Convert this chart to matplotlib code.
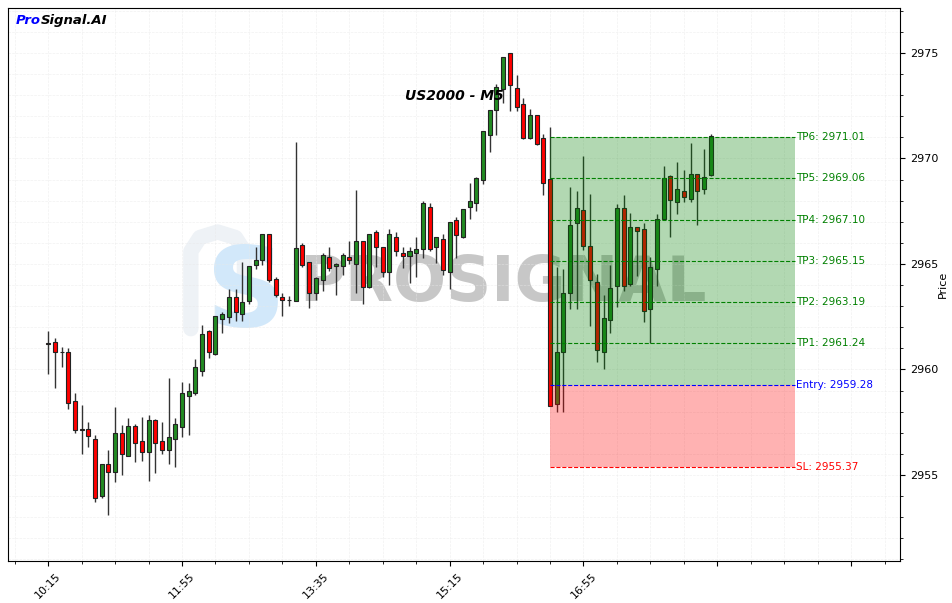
import numpy as np
import pandas as pd
import matplotlib
matplotlib.use('Agg')
import matplotlib.pyplot as plt
from matplotlib.ticker import MultipleLocator, FuncFormatter

# US2000 M5 candles
opens = [2961.27, 2961.29, 2960.82, 2960.82, 2958.49, 2957.19, 2957.17, 2956.69, 2953.99, 2955.51,
         2955.16, 2956.98, 2955.89, 2957.31, 2956.60, 2956.08, 2957.59, 2956.60, 2956.17, 2956.69,
         2957.29, 2958.76, 2958.87, 2959.94, 2961.82, 2960.72, 2962.38, 2962.50, 2963.42, 2962.62,
         2963.26, 2964.97, 2965.18, 2966.41, 2964.27, 2963.42, 2963.28, 2963.25, 2965.90, 2965.08,
         2963.61, 2964.23, 2965.32, 2964.89, 2964.89, 2965.32, 2964.99, 2966.08, 2963.90, 2966.50,
         2965.79, 2964.61, 2966.27, 2965.52, 2965.39, 2965.51, 2965.71, 2967.70, 2965.79, 2966.17,
         2964.61, 2967.07, 2966.27, 2967.69, 2967.88, 2968.97, 2971.10, 2972.28, 2973.28, 2974.99,
         2973.33, 2972.57, 2970.96, 2972.05, 2970.96, 2969.01, 2958.35, 2960.82, 2963.61, 2966.93,
         2967.55, 2965.84, 2964.13, 2960.82, 2962.33, 2963.94, 2967.64, 2964.04, 2966.74, 2966.64,
         2962.85, 2964.75, 2967.12, 2969.16, 2967.92, 2968.45, 2968.07, 2969.25, 2968.54, 2969.20]
highs = [2961.80, 2961.48, 2961.08, 2961.00, 2958.87, 2958.30, 2957.50, 2956.88, 2955.51, 2956.18,
         2958.24, 2957.37, 2957.69, 2957.42, 2957.76, 2957.86, 2957.65, 2957.50, 2959.58, 2957.69,
         2959.39, 2959.37, 2960.48, 2962.09, 2961.85, 2962.55, 2962.73, 2963.80, 2963.80, 2965.08,
         2964.92, 2965.79, 2966.43, 2966.43, 2964.40, 2963.61, 2963.48, 2970.78, 2966.00, 2965.10,
         2964.40, 2965.54, 2965.79, 2965.06, 2965.54, 2966.08, 2968.52, 2966.10, 2966.43, 2966.61,
         2965.82, 2966.67, 2966.50, 2965.79, 2965.79, 2966.27, 2967.99, 2967.89, 2966.30, 2966.42,
         2967.00, 2967.24, 2967.60, 2968.85, 2969.10, 2971.30, 2972.30, 2973.52, 2974.82, 2975.00,
         2973.94, 2972.85, 2972.33, 2972.08, 2971.15, 2971.51, 2964.84, 2964.75, 2968.63, 2968.45,
         2970.10, 2968.30, 2964.51, 2963.52, 2964.94, 2967.83, 2968.26, 2967.40, 2966.76, 2966.93,
         2965.32, 2967.36, 2969.63, 2969.20, 2969.82, 2969.44, 2970.72, 2969.27, 2970.44, 2971.15]
lows = [2959.80, 2959.11, 2960.10, 2958.11, 2956.98, 2955.98, 2956.31, 2953.73, 2953.90, 2953.10,
        2954.68, 2955.00, 2955.89, 2955.60, 2955.68, 2954.70, 2955.08, 2955.98, 2955.51, 2955.36,
        2956.82, 2956.90, 2958.80, 2959.69, 2960.53, 2960.70, 2961.72, 2962.19, 2962.28, 2962.28,
        2963.10, 2964.78, 2964.95, 2964.16, 2963.42, 2962.54, 2963.00, 2963.22, 2964.86, 2962.90,
        2963.29, 2963.71, 2964.68, 2963.53, 2964.46, 2964.99, 2963.61, 2963.10, 2963.88, 2964.87,
        2964.40, 2963.99, 2965.38, 2964.80, 2964.09, 2964.40, 2965.27, 2965.62, 2965.03, 2964.46,
        2963.80, 2965.27, 2966.25, 2967.12, 2967.50, 2968.78, 2970.29, 2971.10, 2972.62, 2972.24,
        2972.24, 2970.94, 2970.94, 2970.65, 2968.26, 2958.25, 2958.00, 2958.00, 2962.85, 2962.85,
        2965.65, 2962.05, 2960.34, 2960.01, 2961.72, 2962.95, 2963.71, 2963.94, 2964.42, 2962.24,
        2961.24, 2963.94, 2967.10, 2966.27, 2967.36, 2967.92, 2967.92, 2966.83, 2968.30, 2969.18]
closes = [2961.19, 2960.82, 2960.80, 2958.40, 2957.13, 2957.15, 2956.86, 2953.90, 2955.51, 2955.16,
          2956.98, 2955.98, 2957.31, 2956.50, 2956.09, 2957.59, 2956.50, 2956.18, 2956.79, 2957.40,
          2958.87, 2958.98, 2960.12, 2961.67, 2960.81, 2962.52, 2962.62, 2963.42, 2962.71, 2963.18,
          2964.89, 2965.18, 2966.41, 2964.26, 2963.52, 2963.28, 2963.30, 2965.74, 2964.95, 2963.61,
          2964.32, 2965.41, 2964.80, 2964.98, 2965.41, 2965.19, 2966.08, 2963.90, 2966.41, 2965.79,
          2964.61, 2966.41, 2965.60, 2965.39, 2965.62, 2965.71, 2967.89, 2965.71, 2966.27, 2964.72,
          2966.98, 2966.39, 2967.59, 2967.97, 2969.06, 2971.29, 2972.28, 2973.37, 2974.80, 2973.47,
          2972.43, 2970.96, 2972.05, 2970.67, 2968.82, 2958.27, 2960.82, 2963.61, 2966.83, 2967.64,
          2965.84, 2964.23, 2960.91, 2962.43, 2963.85, 2967.64, 2963.94, 2966.74, 2966.55, 2962.76,
          2964.84, 2967.12, 2969.06, 2968.02, 2968.54, 2968.16, 2969.25, 2968.45, 2969.11, 2971.05]

start_time = '2024-01-01 10:15'
symbol = 'US2000 - M5'

entry = 2959.28
stop_loss = 2955.37
tp_levels = [2961.24, 2963.19, 2965.15, 2967.10, 2969.06, 2971.01]
signal_bar = 75
zone_end = 111.6

times = pd.date_range(start_time, periods=len(opens), freq='5min')
o = np.array(opens); h = np.array(highs); l = np.array(lows); c = np.array(closes)
x = np.arange(len(o))
up = c >= o

fig = plt.figure(figsize=(9.53, 6.03), dpi=100)
ax = fig.add_axes([8/953, 42/603, 892/953, 553/603])

# watermark
ax.plot([0.205, 0.205, 0.215, 0.235, 0.255, 0.265, 0.265],
        [0.42, 0.56, 0.585, 0.595, 0.585, 0.56, 0.50],
        transform=ax.transAxes, color='#eef2f6', lw=11, solid_capstyle='round',
        solid_joinstyle='round', zorder=0)
ax.text(0.267, 0.48, 'S', transform=ax.transAxes, fontsize=80, fontweight='bold',
        color='#d2e8fa', ha='center', va='center', zorder=0)
ax.text(0.327, 0.50, 'PROSIGNAL', transform=ax.transAxes, fontsize=45,
        fontweight='bold', color='#9a9a9a', alpha=0.55, ha='left', va='center', zorder=0)

# candles
ax.vlines(x, l, h, color='#333333', lw=1, zorder=2)
body = np.where(np.abs(c - o) < 0.02, 0.02, c - o)
ax.bar(x, body, bottom=o, width=0.6, color=np.where(up, 'forestgreen', 'red'),
       edgecolor='#222222', linewidth=0.8, zorder=3)

# trade zones
ax.fill_between([signal_bar, zone_end], entry, tp_levels[-1], color='green', alpha=0.3,
                lw=0, zorder=4)
ax.fill_between([signal_bar, zone_end], stop_loss, entry, color='red', alpha=0.3,
                lw=0, zorder=4)
lx = zone_end + 0.1
for i, tp in enumerate(tp_levels):
    ax.hlines(tp, signal_bar, zone_end, colors='green', linestyles='--', lw=0.8, zorder=5)
    ax.text(lx, tp, 'TP%d: %.2f' % (i + 1, tp), color='green', fontsize=7.5,
            va='center', ha='left', zorder=6)
ax.hlines(entry, signal_bar, zone_end, colors='blue', linestyles='--', lw=0.8, zorder=5)
ax.text(lx, entry, 'Entry: %.2f' % entry, color='blue', fontsize=7.5,
        va='center', ha='left', zorder=6)
ax.hlines(stop_loss, signal_bar, zone_end, colors='red', linestyles='--', lw=0.8, zorder=5)
ax.text(lx, stop_loss, 'SL: %.2f' % stop_loss, color='red', fontsize=7.5,
        va='center', ha='left', zorder=6)

# labels
ax.text(0.5, 0.84, symbol, transform=ax.transAxes, fontsize=10, fontweight='bold',
        fontstyle='italic', ha='center', va='center', zorder=7)
t1 = ax.text(0.009, 0.978, 'Pro', transform=ax.transAxes, fontsize=9.5,
             fontweight='bold', fontstyle='italic', color='blue', va='center', ha='left')
ax.annotate('Signal.AI', xy=(1, 0), xycoords=t1, va='bottom', ha='left',
            fontsize=9.5, fontweight='bold', fontstyle='italic', color='black')

# axes
ax.set_xlim(-6, 127.3)
ax.set_ylim(2950.92, 2977.13)
ax.xaxis.set_major_locator(MultipleLocator(20))
ax.xaxis.set_minor_locator(MultipleLocator(5))
ax.yaxis.set_major_locator(MultipleLocator(5))
ax.yaxis.set_minor_locator(MultipleLocator(1))


def fmt_time(v, pos):
    i = int(round(v))
    if 0 <= i < len(times):
        return times[i].strftime('%H:%M')
    return ''


ax.xaxis.set_major_formatter(FuncFormatter(fmt_time))
ax.yaxis.tick_right()
ax.yaxis.set_label_position('right')
ax.set_ylabel('Price', fontsize=8, labelpad=0)
ax.tick_params(axis='x', labelsize=8, rotation=45)
ax.tick_params(axis='y', labelsize=8)
ax.grid(which='both', color='#e8e8e8', linestyle='--', linewidth=0.5, alpha=0.6)
ax.set_axisbelow(True)

fig.savefig('out.png', dpi=100)
